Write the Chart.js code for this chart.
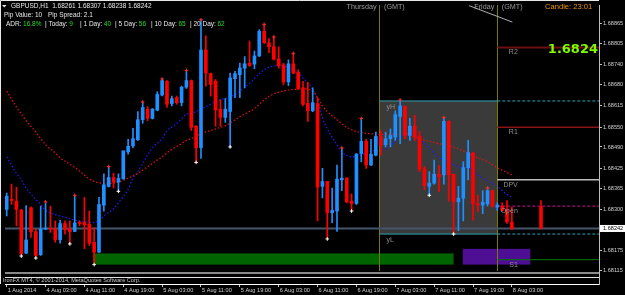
<!DOCTYPE html>
<html><head><meta charset="utf-8">
<script src="https://cdn.jsdelivr.net/npm/chart.js@4.4.1/dist/chart.umd.min.js"></script>
<style>
html,body{margin:0;padding:0;background:#000;overflow:hidden;}
canvas{display:block;}
</style></head>
<body>
<canvas id="chart" width="625" height="295"></canvas>
<script>
// ---------------- data ----------------
const symbol = 'GBPUSD,H1';
const headerOHLC = [1.68261, 1.68307, 1.68238, 1.68242];
const timeLabels = ['1 Aug 2014','4 Aug 03:00','4 Aug 11:00','4 Aug 19:00','5 Aug 03:00','5 Aug 11:00','5 Aug 19:00','6 Aug 03:00','6 Aug 11:00','6 Aug 19:00','7 Aug 03:00','7 Aug 11:00','7 Aug 19:00','8 Aug 03:00'];
const labelEvery = 8; // one time label every 8 hourly bars

const opens = [1.68300,1.68331,1.68325,1.68298,1.68167,1.68305,1.68232,1.68162,1.68240,1.68243,
1.68240,1.68208,1.68257,1.68240,1.68233,1.68259,1.68260,1.68255,1.68200,1.68170,
1.68313,1.68370,1.68397,1.68383,1.68393,1.68475,1.68493,1.68512,1.68573,1.68605,
1.68577,1.68602,1.68648,1.68690,1.68622,1.68640,1.68625,1.68672,1.68692,1.68553,
1.68488,1.68785,1.68713,1.68690,1.68605,1.68580,1.68598,1.68698,1.68710,1.68730,
1.68745,1.68742,1.68767,1.68842,1.68807,1.68795,1.68758,1.68740,1.68688,1.68743,
1.68717,1.68670,1.68623,1.68600,1.68622,1.68370,1.68385,1.68290,1.68295,1.68390,
1.68395,1.68325,1.68318,1.68470,1.68507,1.68435,1.68465,1.68522,1.68497,1.68515,
1.68520,1.68583,1.68613,1.68525,1.68553,1.68523,1.68423,1.68370,1.68380,1.68407,
1.68405,1.68568,1.68407,1.68323,1.68334,1.68427,1.68472,1.68317,1.68313,1.68317,
1.68357,1.68307,1.68310,1.68300,1.68261];
const highs = [1.68350,1.68377,1.68367,1.68300,1.68312,1.68308,1.68240,1.68310,1.68323,1.68310,
1.68265,1.68267,1.68265,1.68265,1.68343,1.68265,1.68337,1.68295,1.68245,1.68337,
1.68408,1.68430,1.68410,1.68408,1.68478,1.68513,1.68547,1.68598,1.68627,1.68613,
1.68607,1.68658,1.68697,1.68692,1.68645,1.68645,1.68675,1.68723,1.68694,1.68555,
1.68877,1.68828,1.68715,1.68695,1.68633,1.68637,1.68715,1.68720,1.68745,1.68765,
1.68812,1.68782,1.68847,1.68865,1.68820,1.68825,1.68795,1.68745,1.68755,1.68775,
1.68725,1.68690,1.68687,1.68670,1.68640,1.68425,1.68385,1.68365,1.68435,1.68487,
1.68397,1.68347,1.68470,1.68577,1.68513,1.68513,1.68535,1.68540,1.68535,1.68545,
1.68600,1.68633,1.68615,1.68577,1.68587,1.68537,1.68430,1.68415,1.68450,1.68433,
1.68580,1.68570,1.68407,1.68370,1.68445,1.68510,1.68473,1.68343,1.68357,1.68367,
1.68359,1.68320,1.68320,1.68327,1.68307];
const lows = [1.68280,1.68315,1.68250,1.68160,1.68165,1.68215,1.68155,1.68160,1.68238,1.68230,
1.68200,1.68197,1.68225,1.68195,1.68232,1.68250,1.68180,1.68190,1.68136,1.68168,
1.68295,1.68368,1.68365,1.68355,1.68392,1.68468,1.68487,1.68510,1.68562,1.68570,
1.68575,1.68600,1.68645,1.68610,1.68615,1.68620,1.68615,1.68668,1.68540,1.68443,
1.68455,1.68675,1.68645,1.68553,1.68553,1.68565,1.68490,1.68640,1.68640,1.68670,
1.68735,1.68728,1.68765,1.68805,1.68777,1.68755,1.68730,1.68680,1.68677,1.68713,
1.68665,1.68615,1.68568,1.68597,1.68265,1.68335,1.68210,1.68260,1.68233,1.68357,
1.68320,1.68295,1.68315,1.68445,1.68425,1.68433,1.68463,1.68465,1.68490,1.68490,
1.68510,1.68500,1.68515,1.68510,1.68510,1.68415,1.68360,1.68343,1.68377,1.68355,
1.68377,1.68325,1.68225,1.68235,1.68265,1.68390,1.68267,1.68293,1.68287,1.68310,
1.68307,1.68297,1.68295,1.68257,1.68238];
const closes = [1.68340,1.68327,1.68300,1.68165,1.68207,1.68232,1.68160,1.68240,1.68242,1.68240,
1.68208,1.68257,1.68238,1.68232,1.68259,1.68257,1.68253,1.68197,1.68170,1.68315,
1.68375,1.68397,1.68383,1.68394,1.68478,1.68492,1.68515,1.68573,1.68610,1.68577,
1.68605,1.68650,1.68692,1.68620,1.68637,1.68625,1.68672,1.68692,1.68550,1.68488,
1.68785,1.68715,1.68680,1.68603,1.68580,1.68605,1.68700,1.68713,1.68730,1.68743,
1.68738,1.68767,1.68842,1.68807,1.68795,1.68757,1.68737,1.68688,1.68743,1.68715,
1.68668,1.68620,1.68600,1.68625,1.68368,1.68385,1.68290,1.68297,1.68392,1.68395,
1.68323,1.68318,1.68468,1.68507,1.68435,1.68468,1.68522,1.68495,1.68515,1.68525,
1.68588,1.68615,1.68525,1.68553,1.68520,1.68423,1.68373,1.68380,1.68407,1.68400,
1.68568,1.68405,1.68323,1.68334,1.68427,1.68473,1.68317,1.68313,1.68322,1.68357,
1.68310,1.68313,1.68297,1.68262,1.68242];

// today's daily candle drawn to the right of the chart
const dailyIndex = 110;
const dailyOHLC = [1.68308, 1.68327, 1.68240, 1.68243];

// moving averages (dotted)
const slowMaIdx = [0,2,3,4,6,7,8,10,11,12,14,15,16,18,19,21,22,23,25,26,27,29,30,32,33,34,36,37,38,40,43,45,48,51,53,55,57,59,61,63,64,65,66,68,70,72,75,78,82,85,89,92,96,99,101,104];
const slowMaVal = [1.68660,1.68612,1.68590,1.68570,1.68535,1.68515,1.68497,1.68472,1.68457,1.68447,1.68428,1.68417,1.68404,1.68385,1.68381,1.68379,1.68380,1.68383,1.68395,1.68402,1.68409,1.68430,1.68440,1.68460,1.68472,1.68483,1.68500,1.68510,1.68515,1.68530,1.68545,1.68555,1.68582,1.68607,1.68633,1.68652,1.68660,1.68665,1.68667,1.68660,1.68640,1.68615,1.68598,1.68573,1.68550,1.68537,1.68530,1.68528,1.68530,1.68515,1.68500,1.68490,1.68463,1.68445,1.68427,1.68405];
const fastMaIdx = [0,1,2,3,4,5,6,7,8,10,11,12,14,15,16,18,19,20,22,23,25,26,27,29,30,32,33,34,36,37,38,40,42,44,46,48,50,52,54,56,58,60,61,62,63,64,65,66,67,68,69,71,73,75,77,79,81,83,85,87,89,91,93,95,97,99,101,103,104];
const fastMaVal = [1.68460,1.68435,1.68410,1.68390,1.68365,1.68347,1.68330,1.68315,1.68297,1.68284,1.68280,1.68276,1.68267,1.68265,1.68263,1.68260,1.68266,1.68280,1.68302,1.68320,1.68362,1.68395,1.68415,1.68465,1.68488,1.68515,1.68540,1.68550,1.68575,1.68590,1.68592,1.68605,1.68620,1.68634,1.68642,1.68660,1.68683,1.68713,1.68733,1.68737,1.68732,1.68715,1.68700,1.68685,1.68665,1.68635,1.68580,1.68545,1.68520,1.68497,1.68475,1.68460,1.68465,1.68478,1.68480,1.68495,1.68520,1.68527,1.68515,1.68487,1.68458,1.68443,1.68430,1.68427,1.68405,1.68387,1.68370,1.68345,1.68337];

// fractal markers
const fractalUpIdx = [8,14,21,28,32,37,40,53,55,59,69,73,81,90,99];
const fractalUpVal = [1.68323,1.68343,1.68430,1.68627,1.68697,1.68723,1.68877,1.68863,1.68825,1.68775,1.68487,1.68577,1.68633,1.68580,1.68365];
const fractalDnIdx = [3,6,13,18,23,39,46,66,71,87,92];
const fractalDnVal = [1.68158,1.68152,1.68195,1.68132,1.68355,1.68443,1.68490,1.68210,1.68295,1.68343,1.68225];

// daily pivots and yesterday's range
const pivotNames = ['R2','R1','DPV','S1'];
const pivotValues = [1.68793,1.68550,1.68390,1.68147];
const todayOpen = 1.68310;
const yesterdayHigh = 1.68630;
const yesterdayLow = 1.68225;
const dayNames = ['Thursday','Friday'];
const dayStartIdx = [76.75, 101];

// coloured zones
const zoneStart = [17.85, 93.9];
const zoneEnd = [92.0, 107.8];
const zoneLow = [1.68132, 1.68132];
const zoneHigh = [1.68166, 1.68180];

// trend line near the top
const trendIdx = [95.2, 104.1];
const trendVal = [1.68920, 1.68870];

const yTicks = [1.68865,1.68805,1.68740,1.68680,1.68615,1.68550,1.68490,1.68425,1.68365,1.68300,1.68175,1.68115];

const pipValue = '10';
const pipSpread = '2.1';
const adrLabels = ['ADR:','| Today:','| 1 Day:','| 5 Day:','| 10 Day:','| 20 Day:'];
const adrValues = ['16.8%','9','40','56','65','62'];
const candleTimer = '23:01';
const bigPrice = '1.6824';
const copyright = 'IronFX MT4, \u00a9 2001-2014, MetaQuotes Software Corp.';

// ---------------- styles ----------------
const BULL = '#1e90ff', BEAR = '#ff0000';
const FONT = '"Liberation Sans", Arial, sans-serif';
const X_MIN = -0.35, X_MAX = 121.94;
const Y_MIN = 1.68073, Y_MAX = 1.68922;
const MAIN_BOTTOM = 271;

const bid = closes[closes.length - 1];
const cIdx = opens.map((_, i) => i).concat([dailyIndex]);
const O = opens.concat([dailyOHLC[0]]);
const H = highs.concat([dailyOHLC[1]]);
const L = lows.concat([dailyOHLC[2]]);
const C = closes.concat([dailyOHLC[3]]);
const cColors = cIdx.map((_, k) => C[k] >= O[k] ? BULL : BEAR);

function hline(label, from, to, value, color, width, dash, order) {
  return { type: 'line', label, data: [{x: from, y: value}, {x: to, y: value}],
    borderColor: color, borderWidth: width, borderDash: dash || [], pointRadius: 0, order };
}

const datasets = [
  { type: 'line', label: 'Fractal up', showLine: false, order: 1,
    data: fractalUpIdx.map((x, k) => ({x, y: fractalUpVal[k]})),
    pointStyle: 'cross', pointRadius: 1.8, borderColor: '#ff2a2a', borderWidth: 1, backgroundColor: '#ff2a2a' },
  { type: 'line', label: 'Fractal down', showLine: false, order: 1,
    data: fractalDnIdx.map((x, k) => ({x, y: fractalDnVal[k]})),
    pointStyle: 'cross', pointRadius: 1.8, borderColor: '#ffffff', borderWidth: 1, backgroundColor: '#ffffff' },
  { type: 'bar', label: 'Bodies', stack: 'candle', order: 2,
    data: cIdx.map((x, k) => ({x, y: [O[k], C[k]]})),
    backgroundColor: cColors, borderWidth: 0, barThickness: 3, minBarLength: 1 },
  { type: 'bar', label: 'Wicks', stack: 'candle', order: 3,
    data: cIdx.map((x, k) => ({x, y: [L[k], H[k]]})),
    backgroundColor: cColors, borderWidth: 0, barThickness: 1, minBarLength: 1 },
  { type: 'line', label: 'Slow MA', order: 6,
    data: slowMaIdx.map((x, k) => ({x, y: slowMaVal[k]})),
    borderColor: '#ee1010', borderWidth: 1.2, borderDash: [1.5, 2], pointRadius: 0, cubicInterpolationMode: 'monotone' },
  { type: 'line', label: 'Fast MA', order: 6,
    data: fastMaIdx.map((x, k) => ({x, y: fastMaVal[k]})),
    borderColor: '#1c1cff', borderWidth: 1.2, borderDash: [1.5, 2], pointRadius: 0, cubicInterpolationMode: 'monotone' },
  { type: 'line', label: 'Trend', order: 7,
    data: trendIdx.map((x, k) => ({x, y: trendVal[k]})),
    borderColor: '#b0b0b0', borderWidth: 1, pointRadius: 0 },
  hline('Bid', X_MIN, X_MAX, bid, '#44566b', 2, [], 20),
  hline('R2', dayStartIdx[1], X_MAX, pivotValues[0], '#6e1010', 2, [], 12),
  hline('R1', dayStartIdx[1], X_MAX, pivotValues[1], '#8a1414', 1.5, [], 12),
  hline('DPV', dayStartIdx[1], X_MAX, pivotValues[2], '#bdbdbd', 1.5, [], 12),
  hline('S1', dayStartIdx[1], X_MAX, pivotValues[3], '#007800', 1, [], 12),
  hline('Open', dayStartIdx[1], X_MAX, todayOpen, '#c8168c', 1, [3, 2], 12),
  hline('yH', dayStartIdx[0], dayStartIdx[1], yesterdayHigh, '#2fa3b6', 1, [], 12),
  hline('yH ext', dayStartIdx[1], X_MAX, yesterdayHigh, '#2fa3b6', 1, [3, 2], 12),
  hline('yL', dayStartIdx[0], dayStartIdx[1], yesterdayLow, '#2fa3b6', 1, [], 12),
  hline('yL ext', dayStartIdx[1], X_MAX, yesterdayLow, '#2fa3b6', 1, [3, 2], 12)
];

function txt(ctx, s, x, y, color, font, align, base) {
  ctx.fillStyle = color; ctx.font = font;
  ctx.textAlign = align || 'left'; ctx.textBaseline = base || 'middle';
  ctx.fillText(s, x, y);
  return ctx.measureText(s).width;
}

const mtPlugin = {
  id: 'mt4',
  beforeDraw(chart) {
    const ctx = chart.ctx;
    ctx.save(); ctx.fillStyle = '#000'; ctx.fillRect(0, 0, chart.width, chart.height); ctx.restore();
  },
  beforeDatasetsDraw(chart) {
    const {ctx, chartArea: a, scales: {x, y}} = chart;
    ctx.save();
    ctx.beginPath(); ctx.rect(a.left, a.top, a.right - a.left, MAIN_BOTTOM - a.top); ctx.clip();
    // yesterday range box
    const bx0 = x.getPixelForValue(dayStartIdx[0]), bx1 = x.getPixelForValue(dayStartIdx[1]);
    const by0 = y.getPixelForValue(yesterdayHigh), by1 = y.getPixelForValue(yesterdayLow);
    ctx.fillStyle = '#3a3a3a';
    ctx.fillRect(bx0, by0, bx1 - bx0, by1 - by0);
    // zones
    const zoneColors = ['#006400', '#4e0f95'];
    zoneStart.forEach((s, k) => {
      const zx0 = x.getPixelForValue(s), zx1 = x.getPixelForValue(zoneEnd[k]);
      const zy0 = y.getPixelForValue(zoneHigh[k]), zy1 = y.getPixelForValue(zoneLow[k]);
      ctx.fillStyle = zoneColors[k];
      ctx.fillRect(zx0, zy0, zx1 - zx0, zy1 - zy0);
    });
    // day separators
    ctx.strokeStyle = '#7a7a00'; ctx.lineWidth = 1;
    dayStartIdx.forEach(v => {
      const px = Math.round(x.getPixelForValue(v)) + 0.5;
      ctx.beginPath(); ctx.moveTo(px, a.top); ctx.lineTo(px, MAIN_BOTTOM); ctx.stroke();
    });
    ctx.restore();
  },
  afterDatasetsDraw(chart) {
    const {ctx, chartArea: a, scales: {x, y}} = chart;
    ctx.save();
    const f7 = '7px ' + FONT;
    const pivX = x.getPixelForValue(dayStartIdx[1]) + 20.5;
    pivotNames.forEach((n, k) => txt(ctx, n, pivX, y.getPixelForValue(pivotValues[k]) + 1.5, '#8e8e8e', f7, 'right', 'top'));
    txt(ctx, 'Open', pivX, y.getPixelForValue(todayOpen) + 1.5, '#8e8e8e', f7, 'right', 'top');
    const yx = x.getPixelForValue(dayStartIdx[0]) + 7;
    txt(ctx, 'yH', yx, y.getPixelForValue(yesterdayHigh) + 2.5, '#8e8e8e', f7, 'left', 'top');
    txt(ctx, 'yL', yx, y.getPixelForValue(yesterdayLow) + 2.5, '#8e8e8e', f7, 'left', 'top');

    // sub window strip at the bottom
    ctx.fillStyle = '#000';
    ctx.fillRect(a.left, MAIN_BOTTOM, a.right - a.left, a.bottom - MAIN_BOTTOM);
    ctx.strokeStyle = '#b8b8b8'; ctx.lineWidth = 1.5;
    ctx.beginPath(); ctx.moveTo(a.left, 273); ctx.lineTo(a.right, 273); ctx.stroke();
    ctx.strokeStyle = '#e0e0e0'; ctx.lineWidth = 1;
    ctx.beginPath(); ctx.moveTo(a.left, 277.5); ctx.lineTo(a.right, 277.5); ctx.stroke();
    txt(ctx, copyright, 3, 280, '#c8c8c8', '5.6px ' + FONT);

    // border
    ctx.strokeStyle = '#e8e8e8'; ctx.lineWidth = 1;
    ctx.beginPath(); ctx.moveTo(0.5, a.bottom); ctx.lineTo(0.5, 0.5); ctx.lineTo(a.right, 0.5); ctx.stroke();

    // header
    ctx.fillStyle = '#e8e8e8';
    ctx.beginPath(); ctx.moveTo(2, 5); ctx.lineTo(6.5, 5); ctx.lineTo(4.25, 7.5); ctx.closePath(); ctx.fill();
    const hf = '6.5px ' + FONT;
    txt(ctx, symbol + '  ' + headerOHLC.map(v => v.toFixed(5)).join(' '), 11, 6.5, '#e8e8e8', hf);
    txt(ctx, 'Pip Value: ' + pipValue, 4, 15, '#e8e8e8', hf);
    txt(ctx, 'Pip Spread: ' + pipSpread, 48, 15, '#e8e8e8', hf);
    const adrX = [6, 45, 80, 115, 151, 190];
    adrLabels.forEach((lab, k) => {
      const w = txt(ctx, lab, adrX[k], 24, '#e8e8e8', hf);
      txt(ctx, adrValues[k], adrX[k] + w + 1.5, 24, '#22dd22', hf);
    });
    const df = '7.2px ' + FONT;
    dayStartIdx.forEach((v, k) => {
      const px = x.getPixelForValue(v);
      txt(ctx, dayNames[k], px - 3, 7, '#9a9a9a', df, 'right');
      txt(ctx, '(GMT)', px + 4.5, 7, '#9a9a9a', df, 'left');
    });
    txt(ctx, 'Candle: ' + candleTimer, 545, 7, '#f0900a', '7.6px ' + FONT);
    txt(ctx, bigPrice, 598, 50, '#7cfc00', 'bold 13px "DejaVu Sans", sans-serif', 'right');
    ctx.restore();
  },
  afterDraw(chart) {
    const {ctx, scales: {y}} = chart;
    const py = y.getPixelForValue(bid);
    ctx.save();
    ctx.fillStyle = '#ffffff';
    ctx.fillRect(600, py - 3.5, 25, 7);
    txt(ctx, bid.toFixed(5), 603, py, '#000000', '5.6px ' + FONT);
    ctx.restore();
  }
};

new Chart(document.getElementById('chart'), {
  type: 'bar',
  data: { datasets },
  options: {
    responsive: false, animation: false, devicePixelRatio: 1, events: [],
    layout: { padding: { left: 1, top: 1, right: 0, bottom: 0 } },
    plugins: { legend: { display: false }, tooltip: { enabled: false }, title: { display: false } },
    scales: {
      x: {
        type: 'linear', position: 'bottom', min: X_MIN, max: X_MAX, offset: false,
        grid: { display: true, drawOnChartArea: false, drawTicks: true, tickLength: 3, color: '#c8c8c8', offset: false },
        border: { display: true, color: '#ffffff', width: 1 },
        ticks: {
          autoSkip: false, maxRotation: 0, minRotation: 0, align: 'start', labelOffset: 1, padding: 0,
          color: '#d0d0d0', font: { family: FONT, size: 5.6 },
          callback: (v) => timeLabels[Math.round(v / labelEvery)]
        },
        afterBuildTicks: (s) => { s.ticks = timeLabels.map((_, k) => ({ value: k * labelEvery })); },
        afterFit: (s) => { s.height = 11; }
      },
      y: {
        type: 'linear', position: 'right', min: Y_MIN, max: Y_MAX, stacked: false, beginAtZero: false,
        grid: { display: true, drawOnChartArea: false, drawTicks: true, tickLength: 3, color: '#c0c0c0' },
        border: { display: true, color: '#bdbdbd', width: 1 },
        ticks: { padding: 1, color: '#d0d0d0', font: { family: FONT, size: 5.6 }, callback: (v) => Number(v).toFixed(5) },
        afterBuildTicks: (s) => { s.ticks = yTicks.map(v => ({ value: v })); },
        afterFit: (s) => { s.width = 26; }
      }
    }
  },
  plugins: [mtPlugin]
});
</script>
</body></html>
